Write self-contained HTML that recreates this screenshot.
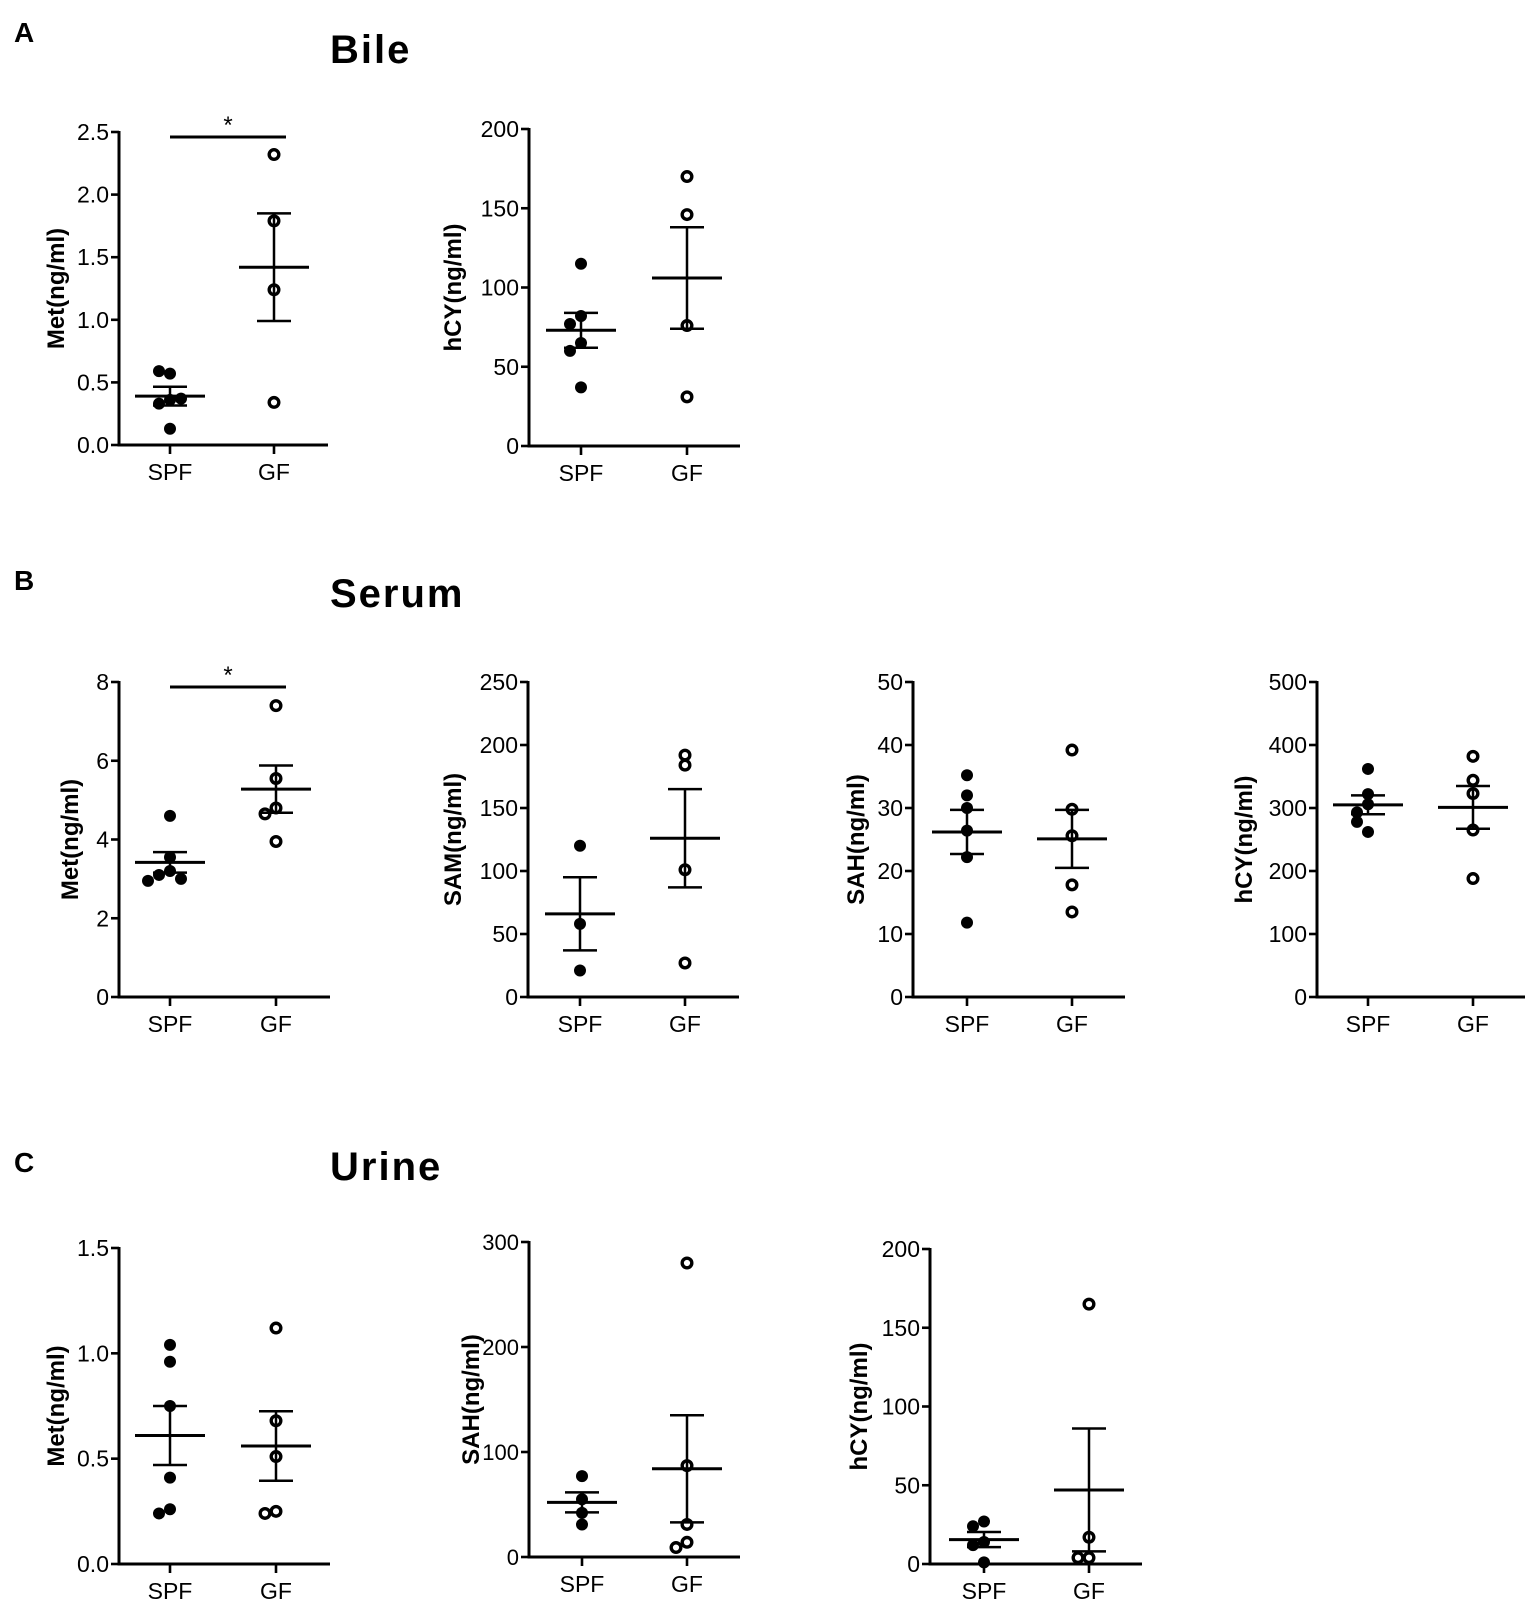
<!DOCTYPE html>
<html><head><meta charset="utf-8"><style>
html,body{margin:0;padding:0;background:#fff}
svg{display:block;font-family:"Liberation Sans",Arial,sans-serif}
</style></head><body>
<svg id="fig" width="1535" height="1604" viewBox="0 0 1535 1604" xmlns="http://www.w3.org/2000/svg">
<text x="14" y="42" font-size="28" font-weight="bold">A</text>
<text x="330" y="63" font-size="40" font-weight="bold" letter-spacing="2">Bile</text>
<text x="14" y="590" font-size="28" font-weight="bold">B</text>
<text x="330" y="607" font-size="40" font-weight="bold" letter-spacing="2">Serum</text>
<text x="14" y="1172" font-size="28" font-weight="bold">C</text>
<text x="330" y="1180" font-size="40" font-weight="bold" letter-spacing="2">Urine</text>
</svg>
<script>
// Data arrays
const categories = ["SPF","GF"];
const bileMetSPF = [0.57,0.59,0.36,0.33,0.37,0.13];
const bileMetGF = [2.32,1.79,1.24,0.34];
const bileMetMean = [0.39,1.42];
const bileMetSem = [0.075,0.43];
const bileHcySPF = [115,82,77,65,60,37];
const bileHcyGF = [170,146,76,31];
const bileHcyMean = [73,106];
const bileHcySem = [11,32];
const serMetSPF = [4.6,3.55,3.2,3.1,3.0,2.95];
const serMetGF = [7.4,5.55,4.8,4.65,3.95];
const serMetMean = [3.42,5.28];
const serMetSem = [0.26,0.6];
const serSamSPF = [120,58,21];
const serSamGF = [192,184,101,27];
const serSamMean = [66,126];
const serSamSem = [29,39];
const serSahSPF = [35.2,32,30,26.4,22.2,11.8];
const serSahGF = [39.2,29.8,25.6,17.8,13.5];
const serSahMean = [26.2,25.1];
const serSahSem = [3.5,4.6];
const serHcySPF = [362,322,306,293,278,262];
const serHcyGF = [382,344,323,265,188];
const serHcyMean = [305,301];
const serHcySem = [15,34];
const urMetSPF = [1.04,0.96,0.75,0.41,0.26,0.24];
const urMetGF = [1.12,0.68,0.51,0.25,0.24];
const urMetMean = [0.61,0.56];
const urMetSem = [0.14,0.165];
const urSahSPF = [77,55,42,31];
const urSahGF = [280,87,31,14,9];
const urSahMean = [52,84];
const urSahSem = [9.5,51];
const urHcySPF = [27,24,14,12,1];
const urHcyGF = [165,17,4,4];
const urHcyMean = [15.5,47];
const urHcySem = [4.8,39];

const tBile = ["0.0","0.5","1.0","1.5","2.0","2.5"];
const t200 = ["0","50","100","150","200"];
const t8 = ["0","2","4","6","8"];
const t250 = ["0","50","100","150","200","250"];
const t50 = ["0","10","20","30","40","50"];
const t500 = ["0","100","200","300","400","500"];
const t15 = ["0.0","0.5","1.0","1.5"];
const t300 = ["0","100","200","300"];

const NS="http://www.w3.org/2000/svg";
const svg=document.getElementById('fig');
function mk(tag,attrs,parent){const e=document.createElementNS(NS,tag);for(const k in attrs)e.setAttribute(k,attrs[k]);(parent||svg).appendChild(e);return e;}

function plot(o){
  const g=mk('g',{});
  
  
  const max=parseFloat(o.ticks[o.ticks.length-1]);
  const y=v=>o.y0-(v/max)*(o.y0-o.yTop);
  const xs=[o.xs,o.xg];
  const ax=mk('line',{x1:o.ax,y1:o.yTop-1,x2:o.ax,y2:o.y0+1.5,stroke:'#000','stroke-width':3},g);
  
  
  const bx=mk('line',{x1:o.ax-1.5,y1:o.y0,x2:o.xe,y2:o.y0,stroke:'#000','stroke-width':3},g);
  
  
  o.ticks.forEach(t=>{
    const v=parseFloat(t),yy=y(v);
    mk('line',{x1:o.ax-8,y1:yy,x2:o.ax,y2:yy,stroke:'#000','stroke-width':2.6},g);
    const tx=mk('text',{x:o.ax-10,y:yy+8,'font-size':o.fs||23,'text-anchor':'end'},g);
    tx.textContent=t;
    
    
  });
  categories.forEach((c,i)=>{
    mk('line',{x1:xs[i],y1:o.y0,x2:xs[i],y2:o.y0+9,stroke:'#000','stroke-width':2.6},g);
    const tx=mk('text',{x:xs[i],y:o.y0+35,'font-size':23,'text-anchor':'middle'},g);
    tx.textContent=c;
    
    
  });
  const yc=(o.y0+o.yTop)/2;
  const tt=mk('text',{x:o.tx,y:yc,'font-size':24,'font-weight':'bold','text-anchor':'middle',transform:`rotate(-90 ${o.tx} ${yc})`,dy:9},g);
  tt.textContent=o.title;
  
  
  [o.spf,o.gf].forEach((arr,i)=>{
    const placed=[];
    arr.forEach(v=>{
      const yy=y(v);
      const near=placed.filter(p=>Math.abs(p-yy)<10).length;
      const off=near===0?0:(near%2?-1:1)*11*Math.ceil(near/2);
      placed.push(yy);
      const c=i===0?mk('circle',{cx:xs[i]+off,cy:yy,r:6,fill:'#000'},g):mk('circle',{cx:xs[i]+off,cy:yy,r:4.8,fill:'#fff',stroke:'#000','stroke-width':3.4},g);
      
      
    });
    const m=o.mean[i],s=o.sem[i];
    const ml=mk('line',{x1:xs[i]-35,y1:y(m),x2:xs[i]+35,y2:y(m),stroke:'#000','stroke-width':3},g);
    
    
    const eb=mk('path',{d:`M${xs[i]} ${y(m+s)}V${y(m-s)}M${xs[i]-17} ${y(m+s)}H${xs[i]+17}M${xs[i]-17} ${y(m-s)}H${xs[i]+17}`,stroke:'#000','stroke-width':2.5,fill:'none'},g);
    
    
  });
  if(o.sig){
    const sl=mk('line',{x1:xs[0],y1:o.sig,x2:xs[0]+116,y2:o.sig,stroke:'#000','stroke-width':3},g);
    
    
    const st=mk('text',{x:xs[0]+58,y:o.sig-4,'font-size':24,'text-anchor':'middle'},g);
    st.textContent='*';
    
    
  }
}

plot({name:'bile-met-chart',ax:119,y0:445,yTop:132,xe:328,xs:170,xg:274,tx:55,ticks:tBile,title:'Met(ng/ml)',spf:bileMetSPF,gf:bileMetGF,mean:bileMetMean,sem:bileMetSem,sig:137});
plot({name:'bile-hcy-chart',ax:529,y0:446,yTop:129,xe:740,xs:581,xg:687,tx:452,ticks:t200,title:'hCY(ng/ml)',spf:bileHcySPF,gf:bileHcyGF,mean:bileHcyMean,sem:bileHcySem});
plot({name:'serum-met-chart',ax:119,y0:997,yTop:682,xe:330,xs:170,xg:276,tx:69,ticks:t8,title:'Met(ng/ml)',spf:serMetSPF,gf:serMetGF,mean:serMetMean,sem:serMetSem,sig:687});
plot({name:'serum-sam-chart',ax:528,y0:997,yTop:682,xe:739,xs:580,xg:685,tx:452,ticks:t250,title:'SAM(ng/ml)',spf:serSamSPF,gf:serSamGF,mean:serSamMean,sem:serSamSem});
plot({name:'serum-sah-chart',ax:913,y0:997,yTop:682,xe:1125,xs:967,xg:1072,tx:855,ticks:t50,title:'SAH(ng/ml)',spf:serSahSPF,gf:serSahGF,mean:serSahMean,sem:serSahSem});
plot({name:'serum-hcy-chart',ax:1317,y0:997,yTop:682,xe:1525,xs:1368,xg:1473,tx:1243,ticks:t500,title:'hCY(ng/ml)',spf:serHcySPF,gf:serHcyGF,mean:serHcyMean,sem:serHcySem});
plot({name:'urine-met-chart',ax:119,y0:1564,yTop:1248,xe:330,xs:170,xg:276,tx:55,ticks:t15,title:'Met(ng/ml)',spf:urMetSPF,gf:urMetGF,mean:urMetMean,sem:urMetSem});
plot({name:'urine-sah-chart',ax:529,y0:1557,yTop:1242,xe:740,xs:582,xg:687,tx:470,ticks:t300,title:'SAH(ng/ml)',spf:urSahSPF,gf:urSahGF,mean:urSahMean,sem:urSahSem,fs:22});
plot({name:'urine-hcy-chart',ax:930,y0:1564,yTop:1249,xe:1142,xs:984,xg:1089,tx:858,ticks:t200,title:'hCY(ng/ml)',spf:urHcySPF,gf:urHcyGF,mean:urHcyMean,sem:urHcySem});
</script>
</body></html>
